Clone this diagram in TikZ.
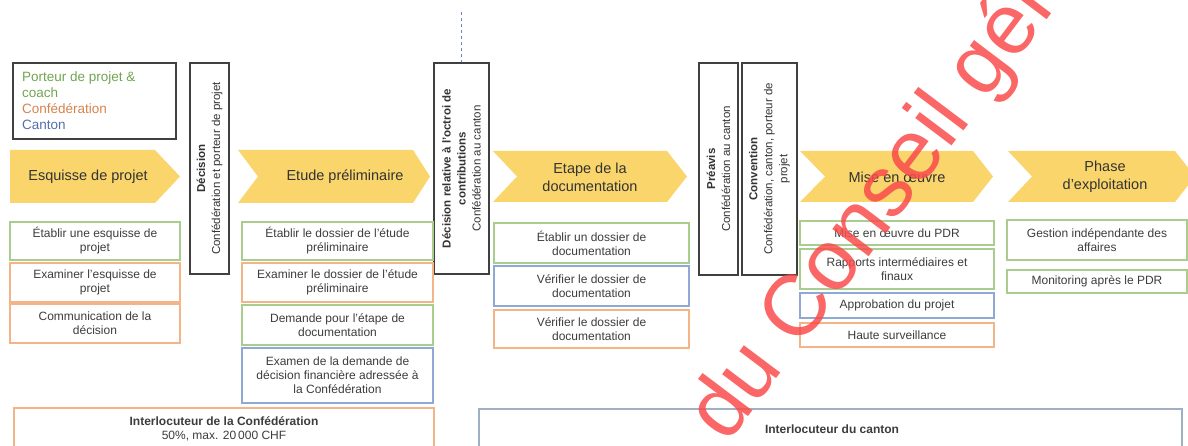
\documentclass[tikz,border=0pt]{standalone}
\usepackage{fontspec}
\setmainfont{Liberation Sans}
\definecolor{gB}{RGB}{168,205,142}
\definecolor{oB}{RGB}{243,180,135}
\definecolor{bB}{RGB}{143,168,212}
\definecolor{gyB}{RGB}{160,176,196}
\definecolor{gT}{RGB}{112,165,80}
\definecolor{oT}{RGB}{214,130,75}
\definecolor{bT}{RGB}{84,110,170}
\definecolor{chev}{RGB}{249,213,107}
\definecolor{txt}{RGB}{60,60,60}
\definecolor{wm}{RGB}{250,75,75}
\definecolor{dline}{RGB}{95,135,210}
\begin{document}
\begin{tikzpicture}[x=1pt,y=-1pt,
  task/.style={draw=#1, line width=1.2pt, align=center, inner sep=0pt, text=txt,
    font=\fontsize{12}{14}\selectfont},
  vbox/.style={draw=black!75, line width=1.6pt, rotate=90, align=center, inner sep=0pt,
    text=black!80, font=\fontsize{11.5}{15}\selectfont},
  chevshape/.style={fill=chev, draw=none},
  chevtext/.style={align=center, text=black!80, font=\fontsize{14.5}{18}\selectfont},
  frame/.style={draw=black!75, line width=1.6pt, inner sep=0pt},
  bottombox/.style={draw=#1, line width=1.2pt, inner sep=0pt},
  bottomtext/.style={align=center, text=txt, font=\fontsize{12}{14}\selectfont}
]
\useasboundingbox (0,0) rectangle (1188,446);

% legend
\node[frame, minimum width=163pt, minimum height=76pt] (leg) at (94.5,101) {};
\node[anchor=west, align=left, inner sep=0pt, font=\fontsize{13.5}{16}\selectfont] (legtxt) at (22,101)
  {\textcolor{gT}{Porteur de projet \&}\\\textcolor{gT}{coach}\\\textcolor{oT}{Confédération}\\\textcolor{bT}{Canton}};

% chevrons
\fill[chevshape] (10,150) -- (155,150) -- (180,176.5) -- (155,203) -- (10,203) -- cycle;
\fill[chevshape] (238,150) -- (413,150) -- (430,176.5) -- (413,203) -- (238,203) -- (258,176.5) -- cycle;
\fill[chevshape] (493,151) -- (667,151) -- (687,176.5) -- (667,202) -- (493,202) -- (517,176.5) -- cycle;
\fill[chevshape] (800,151) -- (973,151) -- (993,176.5) -- (973,202) -- (800,202) -- (825,176.5) -- cycle;
\fill[chevshape] (1008,151) -- (1175,151) -- (1195,176.5) -- (1175,202) -- (1008,202) -- (1032,176.5) -- cycle;
\node[chevtext] (c1) at (88,177) {Esquisse de projet};
\node[chevtext] (c2) at (345,177) {Etude préliminaire};
\node[chevtext] (c3) at (590,177) {Etape de la\\documentation};
\node[chevtext] (c4) at (897,177) {Mise en œuvre};
\node[chevtext] (c5) at (1105,177) {Phase\\d'exploitation};

% vertical decision boxes
\node[vbox, minimum width=211pt, minimum height=39pt] (d1) at (209.5,168.5)
  {\textbf{Décision}\\Confédération et porteur de projet};
\node[vbox, minimum width=211pt, minimum height=55pt] (d2) at (461.5,168.5)
  {\textbf{Décision relative à l'octroi de}\\\textbf{contributions}\\Confédération au canton};
\node[vbox, minimum width=212pt, minimum height=39pt] (pv) at (718.5,169)
  {\textbf{Préavis}\\Confédération au canton};
\node[vbox, minimum width=212pt, minimum height=55pt] (cv) at (769.5,169)
  {\textbf{Convention}\\Confédération, canton, porteur de\\projet};

% dotted divider
\coordinate (dtop) at (461.5,12);
\draw[dline, line width=1.3pt, dash pattern=on 3pt off 3pt] (dtop) -- (d2.east);

% column 1
\node[task=gB, minimum width=170pt, minimum height=38pt] (t1a) at (95,241) {Établir une esquisse de\\projet};
\node[task=oB, minimum width=170pt, minimum height=39pt] (t1b) at (95,282.5) {Examiner l'esquisse de\\projet};
\node[task=oB, minimum width=170pt, minimum height=39pt] (t1c) at (95,323.5) {Communication de la\\décision};

% column 2
\node[task=gB, minimum width=191pt, minimum height=38pt] (t2a) at (337.5,241) {Établir le dossier de l'étude\\préliminaire};
\node[task=oB, minimum width=191pt, minimum height=39pt] (t2b) at (337.5,282.5) {Examiner le dossier de l'étude\\préliminaire};
\node[task=gB, minimum width=191pt, minimum height=40pt] (t2c) at (337.5,325) {Demande pour l'étape de\\documentation};
\node[task=bB, minimum width=191pt, minimum height=55pt] (t2d) at (337.5,375.5) {Examen de la demande de\\décision financière adressée à\\la Confédération};

% column 3
\node[task=gB, minimum width=195pt, minimum height=40pt] (t3a) at (591.5,243) {Établir un dossier de\\documentation};
\node[task=bB, minimum width=195pt, minimum height=40pt] (t3b) at (591.5,286) {Vérifier le dossier de\\documentation};
\node[task=oB, minimum width=195pt, minimum height=38pt] (t3c) at (591.5,329) {Vérifier le dossier de\\documentation};

% column 4
\node[task=gB, minimum width=194pt, minimum height=24pt] (t4a) at (897,233) {Mise en œuvre du PDR};
\node[task=gB, minimum width=194pt, minimum height=40pt] (t4b) at (897,269) {Rapports intermédiaires et\\finaux};
\node[task=bB, minimum width=194pt, minimum height=25pt] (t4c) at (897,305.5) {Approbation du projet};
\node[task=oB, minimum width=194pt, minimum height=24pt] (t4d) at (897,335) {Haute surveillance};

% column 5
\node[task=gB, minimum width=180pt, minimum height=40pt] (t5a) at (1097,240) {Gestion indépendante des\\affaires};
\node[task=gB, minimum width=180pt, minimum height=23pt] (t5b) at (1097,281.5) {Monitoring après le PDR};

% bottom boxes
\node[bottombox=oB, minimum width=420pt, minimum height=62pt] (bconf) at (224,439) {};
\node[bottomtext] (bconftxt) at (224,429) {\textbf{Interlocuteur de la Confédération}\\50\%, max. 20\,000 CHF};
\node[bottombox=gyB, minimum width=703pt, minimum height=62pt] (bcant) at (830.5,440) {};
\node[bottomtext] (bcanttxt) at (832,429) {\textbf{Interlocuteur du canton}};

% watermark
\node[rotate=53, anchor=base west, inner sep=0pt, text=wm, opacity=0.85,
  font=\fontsize{86}{86}\selectfont] (wmk) at (727,445) {du Conseil gén};
\end{tikzpicture}
\end{document}
